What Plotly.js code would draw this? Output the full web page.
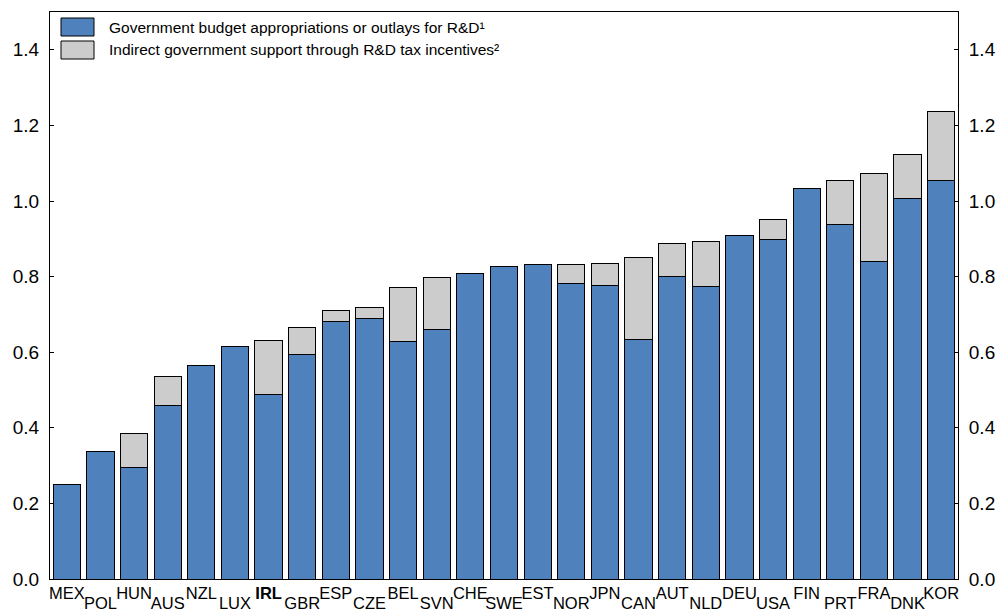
<!DOCTYPE html>
<html>
<head>
<meta charset="utf-8">
<script src="https://cdn.plot.ly/plotly-3.0.1.min.js"></script>
<style>
  html, body { margin: 0; padding: 0; background: #fff; }
  #chart { width: 999px; height: 612px; }
</style>
</head>
<body>
<div id="chart"></div>
<script>
// Country codes, sorted by total support
const countries = ['MEX', 'POL', 'HUN', 'AUS', 'NZL', 'LUX', 'IRL', 'GBR', 'ESP', 'CZE',
                   'BEL', 'SVN', 'CHE', 'SWE', 'EST', 'NOR', 'JPN', 'CAN', 'AUT', 'NLD',
                   'DEU', 'USA', 'FIN', 'PRT', 'FRA', 'DNK', 'KOR'];
// Direct funding (GBAORD), % of GDP
const direct = [0.251, 0.336, 0.294, 0.459, 0.566, 0.616, 0.488, 0.593, 0.680, 0.690,
                0.627, 0.660, 0.807, 0.826, 0.831, 0.783, 0.776, 0.634, 0.799, 0.774,
                0.908, 0.899, 1.033, 0.939, 0.841, 1.006, 1.053];
// Indirect support through tax incentives, % of GDP
const indirect = [0, 0, 0.090, 0.076, 0, 0, 0.143, 0.073, 0.030, 0.029,
                  0.144, 0.137, 0, 0, 0, 0.048, 0.058, 0.217, 0.089, 0.118,
                  0, 0.051, 0, 0.115, 0.231, 0.116, 0.183];

const legendNames = ['Government budget appropriations or outlays for R&D¹',
                     'Indirect government support through R&D tax incentives²'];
const yTicks = [0, 0.2, 0.4, 0.6, 0.8, 1.0, 1.2, 1.4];

const BLUE = '#4f81bd';
const GREY = '#cccccc';
const FONT = 'Liberation Sans, Arial, sans-serif';

const idx = countries.map((_, i) => i);
const evenIdx = idx.filter(i => i % 2 === 0);
const oddIdx = idx.filter(i => i % 2 === 1);
const label = c => c === 'IRL' ? '<b>IRL</b>' : c;

const traces = [
  {
    type: 'bar', x: idx, y: direct, name: legendNames[0],
    marker: { color: BLUE, line: { color: '#000', width: 1 } },
    hoverinfo: 'y'
  },
  {
    type: 'bar', x: idx, y: indirect, name: legendNames[1],
    marker: { color: GREY, line: { color: '#000', width: 1 } },
    hoverinfo: 'y'
  }
];

const xRange = [-0.5, countries.length - 0.5];
const yRange = [0, 1.5];

// hand-drawn legend, swatches in paper coords
const shapes = [];
const annotations = [];
legendNames.forEach((name, k) => {
  const top = 1 - (6 + k * 23) / 567;
  const bot = top - 18 / 567;
  shapes.push({
    type: 'rect', xref: 'paper', yref: 'paper',
    x0: 11 / 908, x1: 44 / 908, y0: bot, y1: top,
    fillcolor: k === 0 ? BLUE : GREY, line: { color: '#000', width: 1 }
  });
  annotations.push({
    xref: 'paper', yref: 'paper', x: 57 / 908, y: (top + bot) / 2,
    xanchor: 'left', yanchor: 'middle', showarrow: false,
    text: name, font: { family: FONT, size: 15.5, color: '#000' }
  });
});

const layout = {
  width: 999, height: 612,
  margin: { l: 50, r: 41, t: 12, b: 33 },
  paper_bgcolor: '#fff', plot_bgcolor: '#fff',
  barmode: 'stack', bargap: 0.19,
  showlegend: false,
  font: { family: FONT, color: '#000' },
  xaxis: {
    range: xRange, tickmode: 'array', tickvals: evenIdx,
    ticktext: evenIdx.map(i => label(countries[i])),
    tickfont: { size: 16.5 }, ticks: '', showgrid: false, zeroline: false,
    showline: true, linecolor: '#000', linewidth: 1, mirror: true,
    ticklabelstandoff: -1, fixedrange: true
  },
  xaxis2: {
    overlaying: 'x', side: 'bottom', range: xRange, tickmode: 'array',
    tickvals: oddIdx, ticktext: oddIdx.map(i => label(countries[i])),
    tickfont: { size: 16.5 }, ticks: '', showgrid: false, zeroline: false,
    showline: false, ticklabelstandoff: 12, fixedrange: true
  },
  yaxis: {
    range: yRange, tickmode: 'array', tickvals: yTicks,
    ticktext: yTicks.map(v => v.toFixed(1)),
    tickfont: { size: 19 }, ticks: 'inside', ticklen: 4, tickcolor: '#000',
    showgrid: false, zeroline: false, ticklabelstandoff: 6,
    showline: true, linecolor: '#000', linewidth: 1, fixedrange: true
  },
  yaxis2: {
    overlaying: 'y', side: 'right', range: yRange, tickmode: 'array',
    tickvals: yTicks, ticktext: yTicks.map(v => v.toFixed(1)),
    tickfont: { size: 19 }, ticks: 'inside', ticklen: 4, tickcolor: '#000',
    showgrid: false, zeroline: false, ticklabelstandoff: 6,
    showline: true, linecolor: '#000', linewidth: 1, fixedrange: true
  },
  shapes: shapes,
  annotations: annotations
};

// dummy invisible trace so the secondary axes get drawn
traces.push({
  type: 'scatter', x: [0], y: [0], xaxis: 'x2', yaxis: 'y2',
  mode: 'markers', marker: { opacity: 0 }, hoverinfo: 'skip', showlegend: false
});

Plotly.newPlot('chart', traces, layout, { displayModeBar: false, staticPlot: true });
</script>
</body>
</html>
